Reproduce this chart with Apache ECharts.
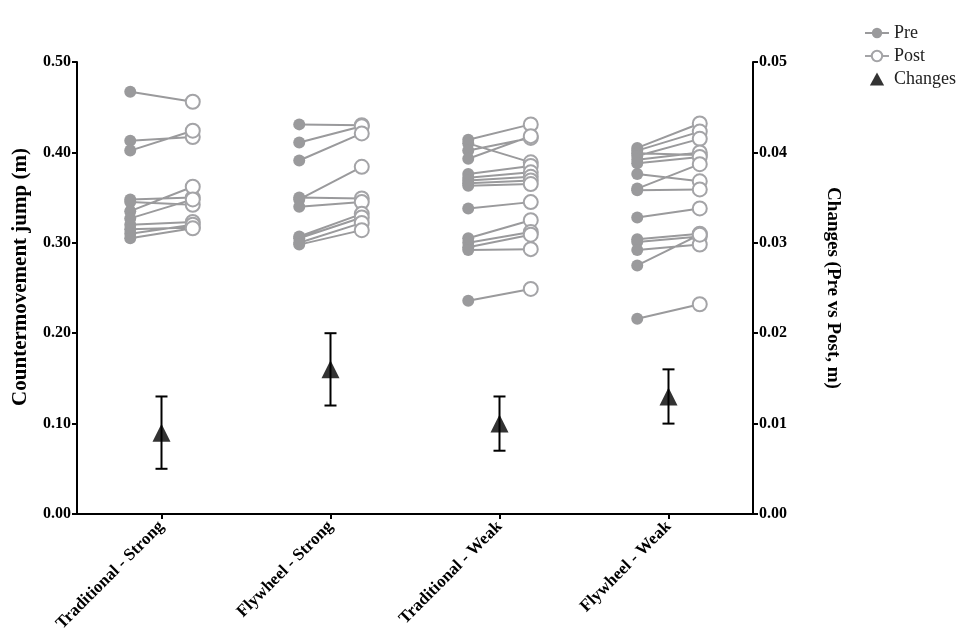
<!DOCTYPE html>
<html>
<head>
<meta charset="utf-8">
<script src="https://cdn.jsdelivr.net/npm/echarts@6/dist/echarts.min.js"></script>
<style>
html,body{margin:0;padding:0;background:#fff;}
#chart{width:961px;height:632px;}
</style>
</head>
<body>
<div id="chart"></div>
<script>
// categories
var categories = ['Traditional - Strong', 'Flywheel - Strong', 'Traditional - Weak', 'Flywheel - Weak'];

// individual jump heights (m), pre and post, same subject order
var preTradStrong  = [0.467, 0.413, 0.402, 0.348, 0.345, 0.335, 0.327, 0.320, 0.315, 0.310, 0.305];
var postTradStrong = [0.456, 0.417, 0.424, 0.350, 0.342, 0.362, 0.348, 0.323, 0.317, 0.320, 0.316];

var preFlyStrong  = [0.431, 0.411, 0.391, 0.348, 0.350, 0.340, 0.307, 0.305, 0.300, 0.298];
var postFlyStrong = [0.430, 0.429, 0.421, 0.384, 0.349, 0.345, 0.332, 0.328, 0.322, 0.314];

var preTradWeak  = [0.414, 0.410, 0.402, 0.393, 0.376, 0.372, 0.369, 0.366, 0.363, 0.338, 0.305, 0.300, 0.295, 0.292, 0.236];
var postTradWeak = [0.431, 0.389, 0.416, 0.418, 0.385, 0.378, 0.373, 0.369, 0.365, 0.345, 0.325, 0.312, 0.309, 0.293, 0.249];

var preFlyWeak  = [0.405, 0.402, 0.399, 0.396, 0.392, 0.388, 0.376, 0.360, 0.358, 0.328, 0.304, 0.301, 0.292, 0.275, 0.216];
var postFlyWeak = [0.432, 0.423, 0.397, 0.415, 0.400, 0.395, 0.368, 0.387, 0.359, 0.338, 0.310, 0.307, 0.298, 0.309, 0.232];

// changes (pre vs post, m) with error bars
var changes     = [0.009, 0.016, 0.010, 0.013];
var changesLow  = [0.005, 0.012, 0.007, 0.010];
var changesHigh = [0.013, 0.020, 0.013, 0.016];

var preGroups = [preTradStrong, preFlyStrong, preTradWeak, preFlyWeak];
var postGroups = [postTradStrong, postFlyStrong, postTradWeak, postFlyWeak];

var GREY = '#9a9a9c';
var LIGHT = '#a4a4a7';
var FONT = '"Liberation Serif", "Times New Roman", serif';
var SHIFT = 0.185; // pre / post offset from category centre

var preData = [], postData = [];
preGroups.forEach(function(pre, g) {
	pre.forEach(function(v, i) {
		preData.push([g + 0.5 - SHIFT, v]);
		preData.push({value: [g + 0.5 + SHIFT, postGroups[g][i]], symbol: 'none'});
		preData.push(['-', '-']);
		postData.push([g + 0.5 + SHIFT, postGroups[g][i]]);
		postData.push(['-', '-']);
	});
});

var errData = categories.map(function(c, i) {
	return [i, changesLow[i], changesHigh[i]];
});

var myChart = echarts.init(document.getElementById('chart'));

var axisLabelStyle = {color: '#000', fontFamily: FONT, fontWeight: 'bold', fontSize: 16};
var nameStyle = {fontFamily: FONT, fontWeight: 'bold', color: '#000'};

myChart.setOption({
	animation: false,
	textStyle: {fontFamily: FONT},
	grid: {left: 77, right: 208, top: 62, bottom: 118, outerBoundsMode: 'none'},
	legend: {
		orient: 'vertical',
		left: 859,
		top: 19,
		itemWidth: 24,
		itemHeight: 13,
		itemGap: 5,
		symbolKeepAspect: true,
		textStyle: {fontFamily: FONT, fontSize: 18, color: '#222'},
		data: ['Pre', 'Post', {name: 'Changes', icon: 'path://M0,10L5.5,0L11,10Z'}]
	},
	xAxis: [{
		type: 'category',
		data: categories,
		axisLine: {lineStyle: {color: '#000', width: 2}},
		axisTick: {show: true, alignWithLabel: true, length: 5, lineStyle: {color: '#000', width: 2}},
		axisLabel: Object.assign({rotate: 45, margin: 10, interval: 0}, axisLabelStyle, {fontSize: 17}),
		splitLine: {show: false}
	}, {
		type: 'value',
		min: 0,
		max: 4,
		show: false
	}],
	yAxis: [{
		type: 'value',
		min: 0,
		max: 0.5,
		interval: 0.1,
		name: 'Countermovement jump (m)',
		nameLocation: 'middle',
		nameGap: 46,
		nameTextStyle: Object.assign({fontSize: 21, padding: [0, 0, 0, 22]}, nameStyle),
		axisLine: {show: true, lineStyle: {color: '#000', width: 2}},
		axisTick: {show: true, length: 5, lineStyle: {color: '#000', width: 2}},
		axisLabel: Object.assign({margin: 6, formatter: function(v) { return v.toFixed(2); }}, axisLabelStyle),
		splitLine: {show: false}
	}, {
		type: 'value',
		min: 0,
		max: 0.05,
		interval: 0.01,
		position: 'right',
		name: 'Changes (Pre vs Post, m)',
		nameLocation: 'middle',
		nameRotate: -90,
		nameGap: 70,
		nameTextStyle: Object.assign({fontSize: 19}, nameStyle),
		axisLine: {show: true, lineStyle: {color: '#000', width: 2}},
		axisTick: {show: true, length: 5, lineStyle: {color: '#000', width: 2}},
		axisLabel: Object.assign({margin: 6, formatter: function(v) { return v.toFixed(2); }}, axisLabelStyle),
		splitLine: {show: false}
	}],
	series: [{
		name: 'Pre',
		type: 'line',
		xAxisIndex: 1,
		yAxisIndex: 0,
		data: preData,
		connectNulls: false,
		symbol: 'circle',
		symbolSize: 12,
		itemStyle: {color: GREY},
		lineStyle: {color: GREY, width: 2}
	}, {
		name: 'Post',
		type: 'line',
		xAxisIndex: 1,
		yAxisIndex: 0,
		data: postData,
		connectNulls: false,
		symbol: 'emptyCircle',
		symbolSize: 14,
		itemStyle: {color: LIGHT, borderWidth: 1.1},
		lineStyle: {color: LIGHT, width: 1.4}
	}, {
		name: 'Changes',
		type: 'scatter',
		xAxisIndex: 0,
		yAxisIndex: 1,
		data: changes,
		symbol: 'triangle',
		symbolSize: 18,
		itemStyle: {color: '#000'},
		z: 5
	}, {
		name: 'err',
		type: 'custom',
		xAxisIndex: 0,
		yAxisIndex: 1,
		data: errData,
		z: 4,
		renderItem: function(params, api) {
			var lo = api.coord([api.value(0), api.value(1)]);
			var hi = api.coord([api.value(0), api.value(2)]);
			var w = 6;
			var st = {stroke: '#000', lineWidth: 2};
			return {
				type: 'group',
				children: [
					{type: 'line', shape: {x1: lo[0], y1: lo[1], x2: hi[0], y2: hi[1]}, style: st},
					{type: 'line', shape: {x1: lo[0] - w, y1: lo[1], x2: lo[0] + w, y2: lo[1]}, style: st},
					{type: 'line', shape: {x1: hi[0] - w, y1: hi[1], x2: hi[0] + w, y2: hi[1]}, style: st}
				]
			};
		}
	}]
});
</script>
</body>
</html>
